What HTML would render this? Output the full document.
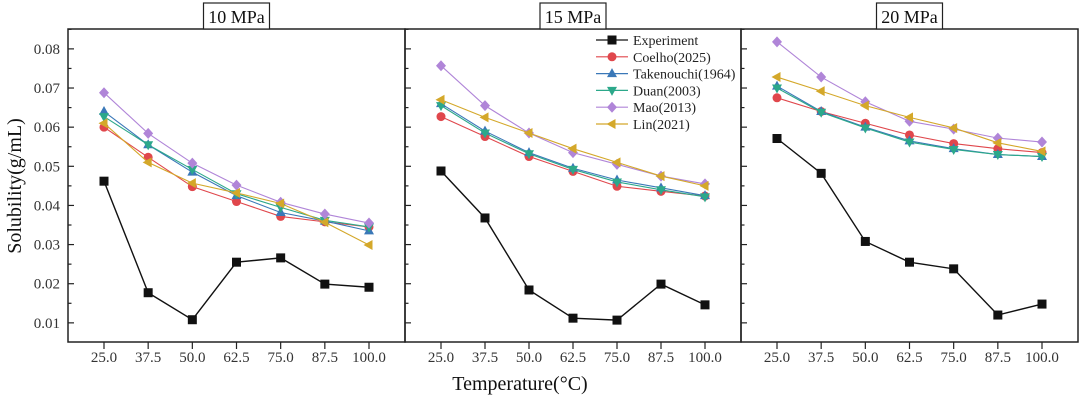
<!DOCTYPE html>
<html><head><meta charset="utf-8"><style>
html,body{margin:0;padding:0;background:#fff;}
svg{display:block;font-family:"Liberation Serif",serif;}
</style></head><body>
<svg id="chart" width="1080" height="404" viewBox="0 0 1080 404"></svg>
<script>
const categories=[25.0,37.5,50.0,62.5,75.0,87.5,100.0];
const tickLabels=["25.0","37.5","50.0","62.5","75.0","87.5","100.0"];
const yTicks=[0.01,0.02,0.03,0.04,0.05,0.06,0.07,0.08];
const panelTitles=["10 MPa","15 MPa","20 MPa"];
const seriesNames=["Experiment","Coelho(2025)","Takenouchi(1964)","Duan(2003)","Mao(2013)","Lin(2021)"];
const exp10=[0.0462,0.0177,0.0108,0.0255,0.0266,0.0199,0.0191];
const coelho10=[0.0600,0.0523,0.0448,0.0410,0.0372,0.0358,0.0345];
const tak10=[0.0640,0.0555,0.0485,0.0425,0.0382,0.0360,0.0335];
const duan10=[0.0627,0.0555,0.0492,0.0430,0.0395,0.0362,0.0345];
const mao10=[0.0688,0.0584,0.0508,0.0452,0.0408,0.0378,0.0355];
const lin10=[0.0610,0.0510,0.0457,0.0432,0.0405,0.0357,0.0299];
const exp15=[0.0488,0.0368,0.0184,0.0112,0.0107,0.0199,0.0146];
const coelho15=[0.0627,0.0576,0.0525,0.0487,0.0449,0.0436,0.0424];
const tak15=[0.0660,0.0590,0.0535,0.0495,0.0465,0.0445,0.0425];
const duan15=[0.0655,0.0585,0.0532,0.0492,0.0460,0.0440,0.0422];
const mao15=[0.0757,0.0655,0.0585,0.0535,0.0505,0.0475,0.0455];
const lin15=[0.0670,0.0625,0.0585,0.0545,0.0510,0.0475,0.0450];
const exp20=[0.0571,0.0482,0.0308,0.0255,0.0238,0.0120,0.0148];
const coelho20=[0.0675,0.0640,0.0610,0.0580,0.0558,0.0545,0.0535];
const tak20=[0.0705,0.0640,0.0600,0.0565,0.0545,0.0530,0.0525];
const duan20=[0.0700,0.0638,0.0598,0.0562,0.0543,0.0530,0.0525];
const mao20=[0.0818,0.0728,0.0665,0.0615,0.0595,0.0572,0.0562];
const lin20=[0.0728,0.0692,0.0655,0.0625,0.0598,0.0560,0.0538];

const panelsData=[[exp10,coelho10,tak10,duan10,mao10,lin10],[exp15,coelho15,tak15,duan15,mao15,lin15],[exp20,coelho20,tak20,duan20,mao20,lin20]];
const colors=["#111","#e0474c","#3a78b8","#2ca88a","#b085d8","#d4a82a"];
const markers=["square","circle","tri-up","tri-down","diamond","tri-left"];
const NS="http://www.w3.org/2000/svg";
const svg=document.getElementById("chart");
function mk(tag,attrs,parent){const e=document.createElementNS(NS,tag);for(const k in attrs)e.setAttribute(k,attrs[k]);(parent||svg).appendChild(e);return e;}
const panels=[{l:68,r:405},{l:405,r:741},{l:741,r:1078}];
const plotTop=29,plotBot=342;
function yScale(v){return 362-3914*v;}
function xScale(p,v){const x0=p.l+36,x1=p.r-36;return x0+(v-25)/75*(x1-x0);}
function marker(g,type,x,y,c){
  let e;
  if(type==="square")e=mk("rect",{x:x-4.5,y:y-4.5,width:9,height:9,fill:c},g);
  else if(type==="circle")e=mk("circle",{cx:x,cy:y,r:4.5,fill:c},g);
  else{let pts;
    if(type==="tri-up")pts=[[x,y-5.5],[x+5,y+3.5],[x-5,y+3.5]];
    else if(type==="tri-down")pts=[[x,y+5.5],[x+5,y-3.5],[x-5,y-3.5]];
    else if(type==="diamond")pts=[[x,y-5.5],[x+5,y],[x,y+5.5],[x-5,y]];
    else pts=[[x-5.5,y],[x+3.5,y-5],[x+3.5,y+5]];
    e=mk("polygon",{points:pts.map(p=>p.join(",")).join(" "),fill:c},g);}
  return e;
}
panels.forEach((p,pi)=>{
  const g=mk("g",{});
  
  
  const fr=mk("rect",{x:p.l,y:plotTop,width:p.r-p.l,height:plotBot-plotTop,fill:"none",stroke:"#222","stroke-width":1.5},g);
  
  
  const cx=(p.l+p.r)/2;
  const tb=mk("rect",{x:cx-33,y:3,width:66,height:26,fill:"#fff",stroke:"#222","stroke-width":1.2},g);
  
  
  const tt=mk("text",{x:cx,y:23,"text-anchor":"middle","font-size":18,fill:"#111"},g);
  tt.textContent=panelTitles[pi];
  
  
  for(let k=2;k<=17;k++){
    const v=k*0.005;const y=yScale(v);const major=(k%2===0);
    mk("line",{x1:p.l,x2:p.l+(major?6:3.5),y1:y,y2:y,stroke:"#222","stroke-width":1.2},g);
  }
  if(pi===0){yTicks.forEach(v=>{const t=mk("text",{x:p.l-8,y:yScale(v)+5,"text-anchor":"end","font-size":15,fill:"#333"},g);t.textContent=v.toFixed(2);
    
    });}
  categories.forEach((c,i)=>{const x=xScale(p,c);
    mk("line",{x1:x,x2:x,y1:plotBot,y2:plotBot+7,stroke:"#222","stroke-width":1.2},g);
    const t=mk("text",{x:x,y:362,"text-anchor":"middle","font-size":15,fill:"#333"},g);t.textContent=tickLabels[i];
    
    });
  [1,2,3,4,5,0].forEach(si=>{
    const d=panelsData[pi][si];
    const sg=mk("g",{},g);
    
    
    const pts=d.map((v,i)=>xScale(p,categories[i])+","+yScale(v)).join(" ");
    mk("polyline",{points:pts,fill:"none",stroke:colors[si],"stroke-width":si===0?1.4:1.1},sg);
    d.forEach((v,i)=>{const m=marker(sg,markers[si],xScale(p,categories[i]),yScale(v),colors[si]);
      
      });
  });
});
const lg=mk("g",{});


mk("rect",{x:594,y:31,width:144,height:102,fill:"#fff"},lg);
seriesNames.forEach((n,i)=>{
  const y=40+i*16.8;
  const eg=mk("g",{},lg);
  
  
  mk("line",{x1:596,x2:628,y1:y,y2:y,stroke:colors[i],"stroke-width":1.2},eg);
  marker(eg,markers[i],612,y,colors[i]);
  const t=mk("text",{x:633,y:y+5,"font-size":14,fill:"#222"},eg);t.textContent=n;
});
const xt=mk("text",{x:520,y:390,"text-anchor":"middle","font-size":20,fill:"#111"});
xt.textContent="Temperature(°C)";


const yt=mk("text",{x:0,y:0,"text-anchor":"middle","font-size":20,fill:"#111",transform:"translate(21,186) rotate(-90)"});
yt.textContent="Solubility(g/mL)";


</script>
</body></html>
